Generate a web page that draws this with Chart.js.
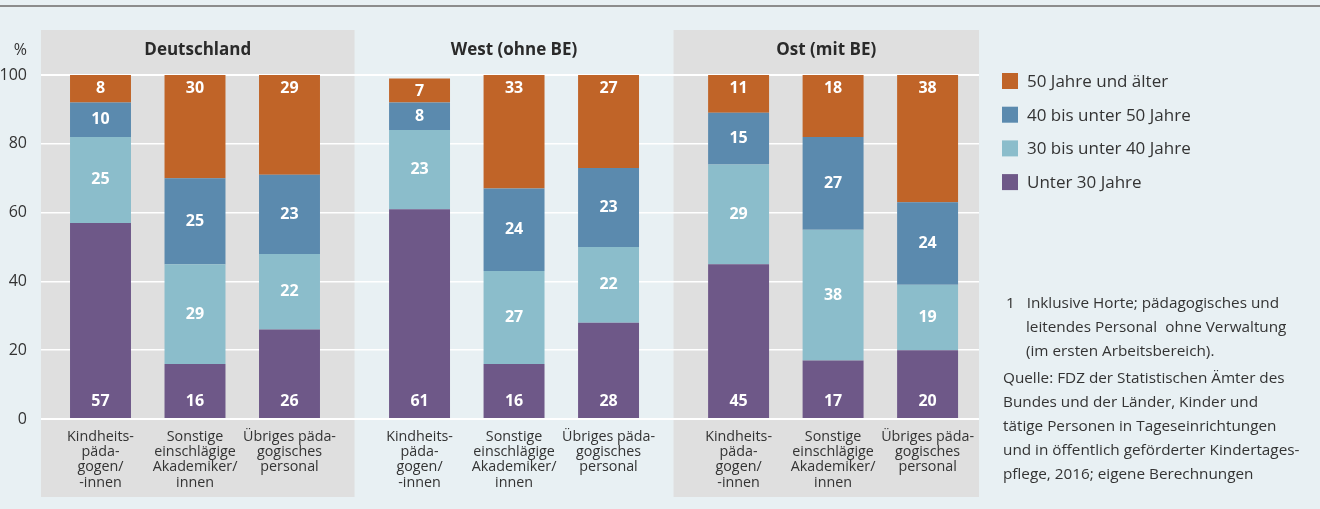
<!DOCTYPE html>
<html lang="de">
<head>
<meta charset="utf-8">
<title>Altersstruktur des Personals</title>
<script src="https://cdn.jsdelivr.net/npm/chart.js@4/dist/chart.umd.min.js"></script>
<style>
  html, body { margin: 0; padding: 0; background: #e8f0f3; }
  body { width: 1320px; height: 509px; position: relative; overflow: hidden; font-family: "Open Sans", sans-serif; color: #333; }
  .topline { position: absolute; left: 0; top: 5px; width: 1320px; height: 2px; background: #8c8c8c; }
  #chartBox { position: absolute; left: 0; top: 0; width: 1320px; height: 509px; }
  .notes { position: absolute; left: 1003px; top: 290px; width: 317px; font-size: 15.3px; line-height: 24px; color: #333; white-space: nowrap; }
  .notes .fn { padding-left: 23px; text-indent: -20px; margin-bottom: 3px; }
</style>
</head>
<body>
<div class="topline"></div>
<div id="chartBox"><canvas id="ageChart" width="1320" height="509"></canvas></div>
<div class="notes">
  <div class="fn">1&nbsp;&nbsp; Inklusive Horte; pädagogisches und<br>leitendes Personal&nbsp; ohne Verwaltung<br>(im ersten Arbeitsbereich).</div>
  <div>Quelle: FDZ der Statistischen Ämter des<br>Bundes und der Länder, Kinder und<br>tätige Personen in Tageseinrichtungen<br>und in öffentlich geförderter Kindertages-<br>pflege, 2016; eigene Berechnungen</div>
</div>

<script>
// groups / categories
const groups = ["Deutschland", "West (ohne BE)", "Ost (mit BE)"];
const categories = [
  ["Kindheits-", "päda-", "gogen/", "-innen"],
  ["Sonstige", "einschlägige", "Akademiker/", "innen"],
  ["Übriges päda-", "gogisches", "personal"]
];

// series, in order Deutschland x3, West x3, Ost x3
const seriesNames = ["Unter 30 Jahre", "30 bis unter 40 Jahre", "40 bis unter 50 Jahre", "50 Jahre und älter"];
const under30 = [57, 16, 26, 61, 16, 28, 45, 17, 20];
const age30to40 = [25, 29, 22, 23, 27, 22, 29, 38, 19];
const age40to50 = [10, 25, 23, 8, 24, 23, 15, 27, 24];
const age50plus = [8, 30, 29, 7, 33, 27, 11, 18, 38];
const seriesColors = ["#6e5888", "#8bbdcb", "#5b8aae", "#c06428"];

const yTicks = [0, 20, 40, 60, 80, 100];

// gap between groups, in bar slots
const groupStride = 3.376;
const positions = [];
groups.forEach((g, gi) => categories.forEach((c, ci) => positions.push(gi * groupStride + ci)));

const FONT = "'Open Sans', 'Noto Sans', sans-serif";
const PANEL = "#dfdfdf";

const datasets = [under30, age30to40, age40to50, age50plus].map((vals, i) => ({
  label: seriesNames[i],
  data: vals.map((v, j) => ({ x: positions[j], y: v })),
  backgroundColor: seriesColors[i],
  borderWidth: 0,
  barPercentage: 0.645,
  categoryPercentage: 1
}));

// grey panels + group titles + % label behind the chart
const panelPlugin = {
  id: "panels",
  beforeDraw(chart) {
    const { ctx, chartArea, scales } = chart;
    const x = scales.x;
    const top = 30, bottom = 497;
    const edges = [chartArea.left];
    for (let g = 1; g < groups.length; g++) {
      const a = x.getPixelForValue(positions[g * 3 - 1]);
      const b = x.getPixelForValue(positions[g * 3]);
      edges.push((a + b) / 2);
    }
    edges.push(chartArea.right);
    ctx.save();
    groups.forEach((g, gi) => {
      if (gi % 2 === 0) {
        ctx.fillStyle = PANEL;
        ctx.fillRect(edges[gi], top, edges[gi + 1] - edges[gi], bottom - top);
      }
      ctx.fillStyle = "#2a2a2a";
      ctx.font = "bold 17px " + FONT;
      ctx.textAlign = "center";
      ctx.textBaseline = "middle";
      ctx.fillText(g, (edges[gi] + edges[gi + 1]) / 2, 50);
    });
    ctx.font = "16px " + FONT;
    ctx.textAlign = "right";
    ctx.fillStyle = "#333";
    ctx.fillText("%", 27, 50);
    ctx.restore();
  }
};

// white value labels inside segments + legend on the right
const labelPlugin = {
  id: "segLabels",
  afterDatasetsDraw(chart) {
    const { ctx } = chart;
    ctx.save();
    ctx.font = "bold 16px " + FONT;
    ctx.fillStyle = "#ffffff";
    ctx.textAlign = "center";
    ctx.textBaseline = "middle";
    chart.data.datasets.forEach((ds, i) => {
      const meta = chart.getDatasetMeta(i);
      meta.data.forEach((bar, j) => {
        const top = Math.max(bar.y, chart.chartArea.top);
        const label = ds.data[j].y;
        let cy = (top + bar.base) / 2;
        if (i === 0) cy = bar.base - 17;
        if (i === 3) cy = top + 13;
        ctx.fillText(String(label), bar.x, cy);
      });
    });

    // legend, top item = last series
    ctx.textAlign = "left";
    ctx.font = "17px " + FONT;
    for (let k = 0; k < seriesNames.length; k++) {
      const i = seriesNames.length - 1 - k;
      const cy = 81 + k * 33.7;
      ctx.fillStyle = seriesColors[i];
      ctx.fillRect(1002, cy - 8, 16, 16);
      ctx.fillStyle = "#333";
      ctx.fillText(seriesNames[i], 1027, cy + 1);
    }
    ctx.restore();
  }
};

new Chart(document.getElementById("ageChart"), {
  type: "bar",
  data: { datasets },
  options: {
    responsive: false,
    animation: false,
    layout: { padding: { top: 75, right: 341, left: 0, bottom: 0 } },
    plugins: {
      legend: { display: false },
      tooltip: { enabled: false }
    },
    scales: {
      x: {
        type: "linear",
        stacked: true,
        offset: false,
        min: -0.6296,
        max: 9.296,
        afterFit: s => { s.height = 90; },
        afterBuildTicks: s => { s.ticks = positions.map(v => ({ value: v })); },
        grid: { display: false, drawTicks: false },
        border: { display: false },
        ticks: {
          autoSkip: false,
          maxRotation: 0,
          padding: 10,
          color: "#333",
          font: { family: FONT, size: 14.3, lineHeight: 1.07 },
          callback: (v, idx) => categories[idx % 3]
        }
      },
      y: {
        stacked: true,
        min: 0,
        max: 100,
        afterFit: s => { s.width = 41; },
        afterBuildTicks: s => { s.ticks = yTicks.map(v => ({ value: v })); },
        grid: {
          color: "#ffffff",
          lineWidth: c => (c.tick && (c.tick.value === 0 || c.tick.value === 100)) ? 2 : 1.5,
          drawTicks: false
        },
        border: { display: false },
        ticks: {
          padding: 14,
          color: "#333",
          font: { family: FONT, size: 16 }
        }
      }
    }
  },
  plugins: [panelPlugin, labelPlugin]
});
</script>
</body>
</html>
